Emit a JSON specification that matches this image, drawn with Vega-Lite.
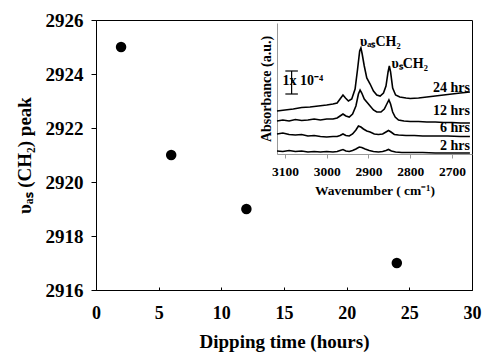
{
  "$schema": "https://vega.github.io/schema/vega-lite/v6.json",
  "width": 376,
  "height": 270,
  "autosize": {"type": "none"},
  "padding": {"left": 96, "top": 20, "right": 13, "bottom": 65},
  "background": "white",
  "config": {
    "view": {"stroke": "black", "strokeWidth": 1},
    "font": "Liberation Serif",
    "axis": {
      "grid": false,
      "labelFont": "Liberation Serif",
      "labelFontWeight": "bold",
      "titleFont": "Liberation Serif",
      "titleFontWeight": "bold",
      "labelColor": "black",
      "titleColor": "black",
      "domainColor": "black",
      "tickColor": "black",
      "labelFlush": false,
      "labelOverlap": false
    }
  },
  "datasets": {
    "main": [
      {"time": 2, "peak": 2925},
      {"time": 6, "peak": 2921},
      {"time": 12, "peak": 2919},
      {"time": 24, "peak": 2917}
    ],
    "spec": [
      {"t": "24", "wn": 3119, "a": 43}, {"t": "24", "wn": 3100, "a": 44}, {"t": "24", "wn": 3080, "a": 45}, {"t": "24", "wn": 3060, "a": 46.5}, {"t": "24", "wn": 3040, "a": 47}, {"t": "24", "wn": 3020, "a": 48}, {"t": "24", "wn": 3000, "a": 49}, {"t": "24", "wn": 2985, "a": 50}, {"t": "24", "wn": 2975, "a": 51}, {"t": "24", "wn": 2968, "a": 55}, {"t": "24", "wn": 2961, "a": 59}, {"t": "24", "wn": 2955, "a": 56}, {"t": "24", "wn": 2948, "a": 53}, {"t": "24", "wn": 2940, "a": 55}, {"t": "24", "wn": 2932, "a": 65}, {"t": "24", "wn": 2926, "a": 85}, {"t": "24", "wn": 2921, "a": 103}, {"t": "24", "wn": 2918, "a": 106}, {"t": "24", "wn": 2915, "a": 100}, {"t": "24", "wn": 2910, "a": 88}, {"t": "24", "wn": 2904, "a": 76}, {"t": "24", "wn": 2896, "a": 70}, {"t": "24", "wn": 2888, "a": 63}, {"t": "24", "wn": 2880, "a": 59}, {"t": "24", "wn": 2872, "a": 58}, {"t": "24", "wn": 2864, "a": 61}, {"t": "24", "wn": 2858, "a": 68}, {"t": "24", "wn": 2853, "a": 82}, {"t": "24", "wn": 2850, "a": 88}, {"t": "24", "wn": 2847, "a": 82}, {"t": "24", "wn": 2842, "a": 66}, {"t": "24", "wn": 2835, "a": 59}, {"t": "24", "wn": 2825, "a": 57}, {"t": "24", "wn": 2810, "a": 56}, {"t": "24", "wn": 2800, "a": 55.5}, {"t": "24", "wn": 2780, "a": 56}, {"t": "24", "wn": 2760, "a": 57}, {"t": "24", "wn": 2740, "a": 58}, {"t": "24", "wn": 2720, "a": 59}, {"t": "24", "wn": 2700, "a": 60}, {"t": "24", "wn": 2680, "a": 61}, {"t": "24", "wn": 2657, "a": 62},
      {"t": "12", "wn": 3119, "a": 33}, {"t": "12", "wn": 3105, "a": 34}, {"t": "12", "wn": 3090, "a": 33}, {"t": "12", "wn": 3075, "a": 34.5}, {"t": "12", "wn": 3060, "a": 33.5}, {"t": "12", "wn": 3045, "a": 34}, {"t": "12", "wn": 3030, "a": 35}, {"t": "12", "wn": 3015, "a": 34}, {"t": "12", "wn": 3000, "a": 35}, {"t": "12", "wn": 2985, "a": 35}, {"t": "12", "wn": 2975, "a": 36}, {"t": "12", "wn": 2968, "a": 38}, {"t": "12", "wn": 2961, "a": 40}, {"t": "12", "wn": 2954, "a": 38}, {"t": "12", "wn": 2946, "a": 37}, {"t": "12", "wn": 2938, "a": 40}, {"t": "12", "wn": 2930, "a": 48}, {"t": "12", "wn": 2924, "a": 60}, {"t": "12", "wn": 2920, "a": 64}, {"t": "12", "wn": 2916, "a": 61}, {"t": "12", "wn": 2910, "a": 55}, {"t": "12", "wn": 2902, "a": 51}, {"t": "12", "wn": 2896, "a": 48}, {"t": "12", "wn": 2888, "a": 44}, {"t": "12", "wn": 2880, "a": 42}, {"t": "12", "wn": 2870, "a": 42}, {"t": "12", "wn": 2862, "a": 45}, {"t": "12", "wn": 2856, "a": 50}, {"t": "12", "wn": 2851, "a": 54}, {"t": "12", "wn": 2847, "a": 50}, {"t": "12", "wn": 2842, "a": 42}, {"t": "12", "wn": 2836, "a": 37}, {"t": "12", "wn": 2828, "a": 34}, {"t": "12", "wn": 2815, "a": 33}, {"t": "12", "wn": 2800, "a": 32.5}, {"t": "12", "wn": 2780, "a": 32.5}, {"t": "12", "wn": 2760, "a": 32}, {"t": "12", "wn": 2740, "a": 32}, {"t": "12", "wn": 2720, "a": 31.5}, {"t": "12", "wn": 2700, "a": 31.5}, {"t": "12", "wn": 2680, "a": 31}, {"t": "12", "wn": 2657, "a": 31},
      {"t": "6", "wn": 3119, "a": 20}, {"t": "6", "wn": 3105, "a": 21}, {"t": "6", "wn": 3090, "a": 19.5}, {"t": "6", "wn": 3075, "a": 19}, {"t": "6", "wn": 3060, "a": 19.5}, {"t": "6", "wn": 3045, "a": 18}, {"t": "6", "wn": 3030, "a": 18.5}, {"t": "6", "wn": 3015, "a": 17.5}, {"t": "6", "wn": 3000, "a": 17}, {"t": "6", "wn": 2985, "a": 17.5}, {"t": "6", "wn": 2975, "a": 17.5}, {"t": "6", "wn": 2968, "a": 18.5}, {"t": "6", "wn": 2961, "a": 20}, {"t": "6", "wn": 2954, "a": 18.5}, {"t": "6", "wn": 2946, "a": 18}, {"t": "6", "wn": 2938, "a": 20}, {"t": "6", "wn": 2930, "a": 24}, {"t": "6", "wn": 2924, "a": 28}, {"t": "6", "wn": 2918, "a": 27}, {"t": "6", "wn": 2912, "a": 25}, {"t": "6", "wn": 2904, "a": 23}, {"t": "6", "wn": 2896, "a": 22}, {"t": "6", "wn": 2886, "a": 20}, {"t": "6", "wn": 2876, "a": 19.5}, {"t": "6", "wn": 2866, "a": 20}, {"t": "6", "wn": 2858, "a": 22}, {"t": "6", "wn": 2852, "a": 23.5}, {"t": "6", "wn": 2846, "a": 22}, {"t": "6", "wn": 2838, "a": 19.5}, {"t": "6", "wn": 2828, "a": 19}, {"t": "6", "wn": 2810, "a": 18.5}, {"t": "6", "wn": 2790, "a": 18.5}, {"t": "6", "wn": 2770, "a": 18}, {"t": "6", "wn": 2740, "a": 18}, {"t": "6", "wn": 2710, "a": 18}, {"t": "6", "wn": 2680, "a": 17.5}, {"t": "6", "wn": 2657, "a": 17.5},
      {"t": "2", "wn": 3119, "a": 3}, {"t": "2", "wn": 3105, "a": 2.5}, {"t": "2", "wn": 3090, "a": 3.5}, {"t": "2", "wn": 3075, "a": 2.5}, {"t": "2", "wn": 3060, "a": 3}, {"t": "2", "wn": 3045, "a": 2}, {"t": "2", "wn": 3030, "a": 2.5}, {"t": "2", "wn": 3015, "a": 2}, {"t": "2", "wn": 3000, "a": 2.5}, {"t": "2", "wn": 2985, "a": 2}, {"t": "2", "wn": 2975, "a": 2.5}, {"t": "2", "wn": 2968, "a": 3.5}, {"t": "2", "wn": 2961, "a": 4.5}, {"t": "2", "wn": 2954, "a": 3}, {"t": "2", "wn": 2946, "a": 2.5}, {"t": "2", "wn": 2938, "a": 3.5}, {"t": "2", "wn": 2930, "a": 5}, {"t": "2", "wn": 2922, "a": 7}, {"t": "2", "wn": 2916, "a": 6.5}, {"t": "2", "wn": 2908, "a": 5}, {"t": "2", "wn": 2898, "a": 3.5}, {"t": "2", "wn": 2888, "a": 2.5}, {"t": "2", "wn": 2876, "a": 2}, {"t": "2", "wn": 2866, "a": 2.5}, {"t": "2", "wn": 2858, "a": 3.5}, {"t": "2", "wn": 2852, "a": 4.5}, {"t": "2", "wn": 2845, "a": 3}, {"t": "2", "wn": 2835, "a": 2}, {"t": "2", "wn": 2820, "a": 1.5}, {"t": "2", "wn": 2800, "a": 1.5}, {"t": "2", "wn": 2770, "a": 1.5}, {"t": "2", "wn": 2740, "a": 1}, {"t": "2", "wn": 2710, "a": 1}, {"t": "2", "wn": 2680, "a": 1}, {"t": "2", "wn": 2657, "a": 1}
    ],
    "bar": [
      {"wn": 3084, "wn2": 3084, "a": 60, "a2": 83},
      {"wn": 3099, "wn2": 3069, "a": 83, "a2": 83},
      {"wn": 3099, "wn2": 3069, "a": 60, "a2": 60}
    ],
    "peaks": [
      {"wn": 2920, "a": 108, "label": "υₐₛCH₂"},
      {"wn": 2845, "a": 86, "label": "υₛCH₂"},
      {"wn": 3106, "a": 69, "label": "1x 10⁻⁴"}
    ],
    "hrs": [
      {"wn": 2657, "a": 62, "label": "24 hrs"},
      {"wn": 2657, "a": 39, "label": "12 hrs"},
      {"wn": 2657, "a": 22, "label": "6 hrs"},
      {"wn": 2657, "a": 4, "label": "2 hrs"}
    ]
  },
  "layer": [
    {
      "data": {"name": "main"},
      "mark": {"type": "point", "filled": true, "color": "black", "size": 110, "opacity": 1},
      "encoding": {
        "x": {
          "field": "time", "type": "quantitative",
          "scale": {"domain": [0, 30], "nice": false},
          "axis": {"orient": "bottom", "values": [0, 5, 10, 15, 20, 25, 30], "format": "d", "tickSize": -3, "labelPadding": 17, "labelFontSize": 18, "labelFontWeight": "bold", "labelFont": "Liberation Serif", "labelColor": "black", "titleFontSize": 19, "titlePadding": 10, "title": "Dipping time (hours)"}
        },
        "y": {
          "field": "peak", "type": "quantitative",
          "scale": {"domain": [2916, 2926], "nice": false, "zero": false},
          "axis": {"orient": "left", "values": [2916, 2918, 2920, 2922, 2924, 2926], "format": "d", "tickSize": 5, "labelPadding": 8, "labelFontSize": 19, "labelFontWeight": "bold", "titleFontSize": 19, "titlePadding": 11, "title": "υₐₛ (CH₂) peak"}
        }
      }
    },
    {
      "encoding": {
        "x": {
          "field": "wn", "type": "quantitative",
          "scale": {"domain": [2652, 3119], "reverse": true, "range": [181, 376], "nice": false, "zero": false},
          "axis": {"orient": "bottom", "offset": -136, "values": [3100, 3000, 2900, 2800, 2700], "format": "d", "domainColor": "#999999", "tickColor": "#999999", "tickSize": 4, "labelFontSize": 13.5, "labelFontWeight": "bold", "labelPadding": 6, "titleFontSize": 13.5, "titlePadding": 6, "title": "Wavenumber ( cm⁻¹)"}
        },
        "y": {
          "field": "a", "type": "quantitative",
          "scale": {"domain": [0, 131], "range": [134, 3], "nice": false, "zero": false},
          "axis": {"orient": "left", "offset": -181, "ticks": false, "labels": false, "domainColor": "#999999", "titleFontSize": 14, "titlePadding": 4, "title": "Absorbance (a.u.)"}
        }
      },
      "layer": [
        {
          "data": {"name": "spec"},
          "mark": {"type": "line", "color": "black", "strokeWidth": 1.6},
          "encoding": {"detail": {"field": "t", "type": "nominal"}}
        },
        {
          "data": {"name": "bar"},
          "mark": {"type": "rule", "color": "black", "strokeWidth": 1.2},
          "encoding": {"x2": {"field": "wn2"}, "y2": {"field": "a2"}}
        },
        {
          "data": {"name": "peaks"},
          "mark": {"type": "text", "align": "left", "baseline": "alphabetic", "font": "Liberation Serif", "fontWeight": "bold", "fontSize": 14, "color": "black"},
          "encoding": {"text": {"field": "label"}}
        },
        {
          "data": {"name": "hrs"},
          "mark": {"type": "text", "align": "right", "baseline": "alphabetic", "font": "Liberation Serif", "fontWeight": "bold", "fontSize": 14, "color": "black"},
          "encoding": {"text": {"field": "label"}}
        }
      ]
    }
  ],
  "resolve": {
    "scale": {"x": "independent", "y": "independent"},
    "axis": {"x": "independent", "y": "independent"}
  }
}
